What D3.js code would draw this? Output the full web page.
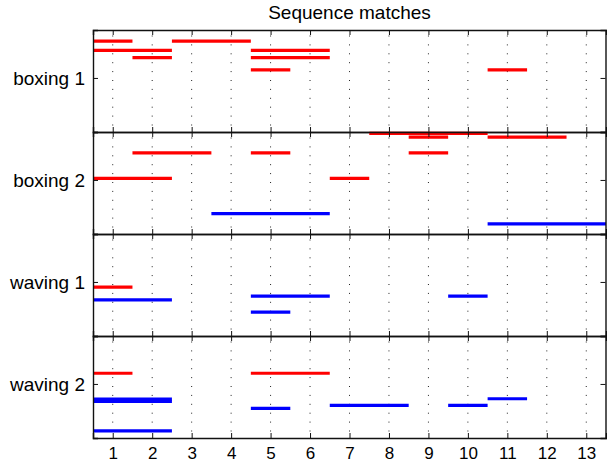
<!DOCTYPE html>
<html>
<head>
<meta charset="utf-8">
<script src="https://cdnjs.cloudflare.com/ajax/libs/d3/7.8.5/d3.min.js"></script>
<style>
  body { margin: 0; background: #fff; }
  text { font-family: "Liberation Sans", Arial, Helvetica, sans-serif; fill: #000; }
</style>
</head>
<body>
<script>
// sequence labels (one subplot each)
var sequences = ["boxing 1", "boxing 2", "waving 1", "waving 2"];

// x tick labels (frame numbers)
var frameTicks = [1, 2, 3, 4, 5, 6, 7, 8, 9, 10, 11, 12, 13];

// matched segments per sequence: [start, end, distance, class]
var boxing1 = [
    [0.5, 1.5, 0.11, "boxing"],
    [2.5, 4.5, 0.11, "boxing"],
    [0.5, 2.5, 0.20, "boxing"],
    [4.5, 6.5, 0.20, "boxing"],
    [1.5, 2.5, 0.27, "boxing"],
    [4.5, 6.5, 0.27, "boxing"],
    [4.5, 5.5, 0.39, "boxing"],
    [10.5, 11.5, 0.39, "boxing"]
];

var boxing2 = [
    [7.5, 10.5, 0.013, "boxing"],
    [8.5, 9.5, 0.05, "boxing"],
    [10.5, 12.5, 0.05, "boxing"],
    [1.5, 3.5, 0.205, "boxing"],
    [4.5, 5.5, 0.205, "boxing"],
    [8.5, 9.5, 0.205, "boxing"],
    [0.5, 2.5, 0.455, "boxing"],
    [6.5, 7.5, 0.455, "boxing"],
    [3.5, 6.5, 0.80, "waving"],
    [10.5, 13.5, 0.90, "waving"]
];

var waving1 = [
    [0.5, 1.5, 0.52, "boxing"],
    [0.5, 2.5, 0.645, "waving"],
    [4.5, 6.5, 0.61, "waving"],
    [9.5, 10.5, 0.61, "waving"],
    [4.5, 5.5, 0.765, "waving"]
];

var waving2 = [
    [0.5, 1.5, 0.365, "boxing"],
    [4.5, 6.5, 0.365, "boxing"],
    [0.5, 2.5, 0.618, "waving"],
    [0.5, 2.5, 0.642, "waving"],
    [10.5, 11.5, 0.615, "waving"],
    [6.5, 8.5, 0.68, "waving"],
    [9.5, 10.5, 0.68, "waving"],
    [4.5, 5.5, 0.71, "waving"],
    [0.5, 2.5, 0.93, "waving"]
];

var segments = [boxing1, boxing2, waving1, waving2];

// y position of the sequence label on each subplot
var labelValue = 0.47;

var width = 607,
    height = 465;

var margin = {top: 30, right: 1, bottom: 27, left: 93};

var svg = d3.select("body").append("svg")
    .attr("width", width)
    .attr("height", height);

var x = d3.scaleLinear()
    .domain([0.5, 13.5])
    .range([margin.left, width - margin.right]);

// one band per sequence
var band = d3.scaleBand()
    .domain(sequences)
    .range([margin.top, height - margin.bottom]);

var color = d3.scaleOrdinal()
    .domain(["boxing", "waving"])
    .range(["#ff0000", "#0000ff"]);

svg.append("defs").append("clipPath")
    .attr("id", "plotclip")
    .append("rect")
    .attr("x", x(0.5))
    .attr("y", margin.top)
    .attr("width", x(13.5) - x(0.5))
    .attr("height", height - margin.bottom - margin.top);

sequences.forEach(function (name, i) {
    var top = band(name),
        bottom = top + band.bandwidth();

    var y = d3.scaleLinear()
        .domain([0, 1])
        .range([top, bottom]);

    var g = svg.append("g").attr("class", "subplot");

    // dotted vertical grid
    g.append("g")
        .selectAll("line")
        .data(frameTicks)
        .enter().append("line")
        .attr("x1", function (d) { return x(d); })
        .attr("x2", function (d) { return x(d); })
        .attr("y1", top + 2)
        .attr("y2", bottom)
        .style("stroke", "#222")
        .style("stroke-width", 1)
        .style("stroke-dasharray", "1,7.9")
        .style("stroke-dashoffset", -3.5);

    // segments
    g.append("g")
        .attr("clip-path", "url(#plotclip)")
        .selectAll("line")
        .data(segments[i])
        .enter().append("line")
        .attr("x1", function (d) { return x(d[0]); })
        .attr("x2", function (d) { return x(d[1]); })
        .attr("y1", function (d) { return y(d[2]); })
        .attr("y2", function (d) { return y(d[2]); })
        .style("stroke", function (d) { return color(d[3]); })
        .style("stroke-width", 3.2);

    // axes with inward ticks
    var bottomAxis = d3.axisBottom(x)
        .tickValues(frameTicks)
        .tickSize(-5)
        .tickPadding(9)
        .tickFormat(i === sequences.length - 1 ? d3.format("d") : "");

    var topAxis = d3.axisTop(x)
        .tickValues(frameTicks)
        .tickSize(-5)
        .tickFormat("");

    var leftAxis = d3.axisLeft(y)
        .tickValues([labelValue])
        .tickSize(-5)
        .tickPadding(8)
        .tickFormat(function () { return name; });

    var rightAxis = d3.axisRight(y)
        .tickValues([labelValue])
        .tickSize(-5)
        .tickFormat("");

    [
        [bottomAxis, "translate(0," + bottom + ")"],
        [topAxis, "translate(0," + top + ")"],
        [leftAxis, "translate(" + x(0.5) + ",0)"],
        [rightAxis, "translate(" + (x(13.5) - 0.5) + ",0)"]
    ].forEach(function (a) {
        var ax = g.append("g")
            .attr("transform", a[1])
            .call(a[0]);
        ax.select(".domain")
            .style("stroke", "#111")
            .style("stroke-width", 1.4);
        ax.selectAll(".tick line")
            .style("stroke", "#111")
            .style("stroke-width", 1);
        ax.selectAll("text")
            .style("font-size", a[0] === leftAxis ? "19px" : "17px")
            .style("fill", "#000");
    });
});

// title
svg.append("text")
    .attr("x", (x(0.5) + x(13.5)) / 2)
    .attr("y", 19)
    .attr("text-anchor", "middle")
    .style("font-size", "19px")
    .text("Sequence matches");
</script>
</body>
</html>
